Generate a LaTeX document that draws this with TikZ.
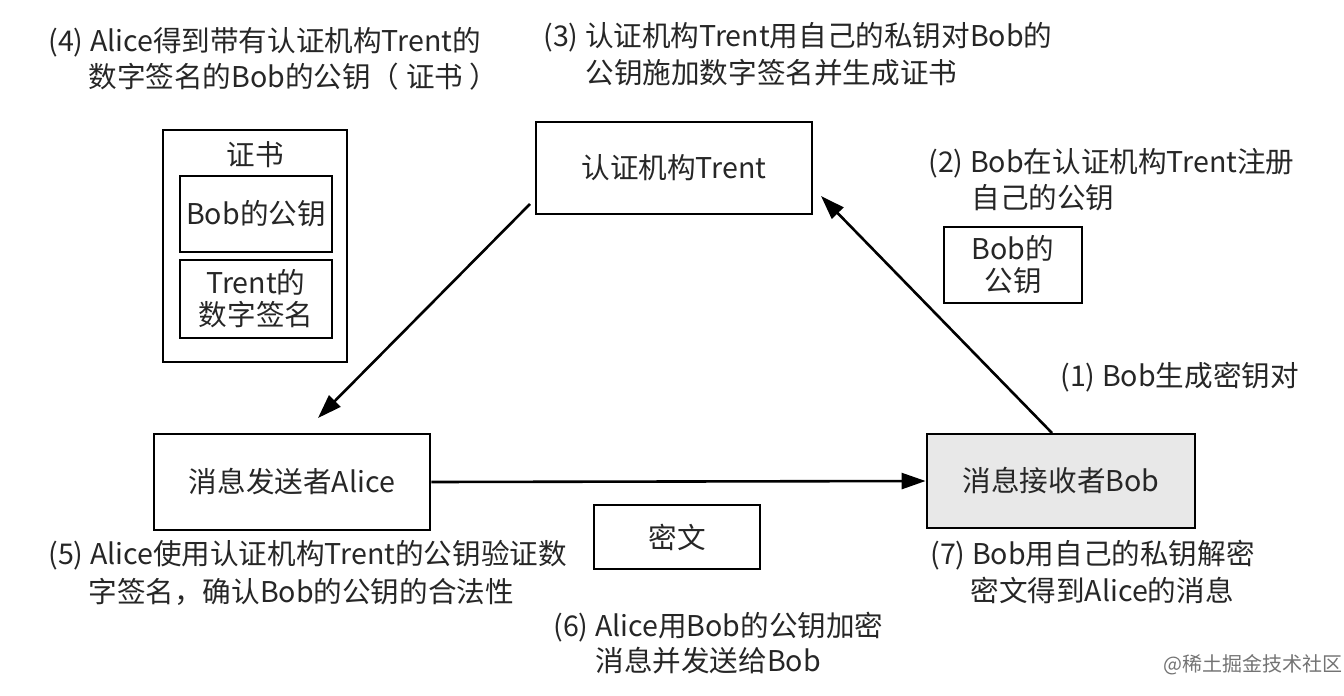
\documentclass[tikz,border=0pt]{standalone}
\usepackage{fontspec}
\setmainfont{Noto Sans CJK SC}
\usetikzlibrary{arrows.meta}
\begin{document}
\begin{tikzpicture}[x=0.5pt,y=-0.5pt,
  every node/.style={font=\fontsize{14.3}{17}\selectfont, text=black!85},
  box/.style={draw=black, line width=1.4pt, inner sep=0pt},
  lbl/.style={anchor=west, inner sep=0pt},
  conn/.style={draw=black, line width=1.3pt, -{Triangle[length=12pt,width=8pt]}}]
\useasboundingbox (0,0) rectangle (1344,696);
% main boxes
\node[box, minimum width=138pt, minimum height=46pt] (trent) at (674,168) {认证机构Trent};
\node[box, minimum width=138pt, minimum height=48pt] (alice) at (292,482) {消息发送者Alice};
\node[box, fill=black!9, minimum width=134pt, minimum height=47pt] (bob) at (1061,481) {消息接收者Bob};
\node[box, minimum width=83pt, minimum height=32pt] (cipher) at (677,537) {密文};
\node[box, minimum width=69pt, minimum height=38pt, align=center, font=\fontsize{14.3}{16}\selectfont] (bobkey) at (1013,265) {Bob的\\公钥};
% certificate
\node[box, minimum width=92pt, minimum height=116pt] (cert) at (255,246) {};
\node[inner sep=0pt] (certt) at (255,155) {证书};
\node[box, minimum width=76pt, minimum height=38pt] (certk) at (256,214) {Bob的公钥};
\node[box, minimum width=76pt, minimum height=39pt, align=center, font=\fontsize{14.3}{16}\selectfont] (certs) at (256,299) {Trent的\\数字签名};
% connectors
\coordinate (tA) at (530,204);
\coordinate (bT) at (1052,433);
\draw[conn] (tA) -- (318,418);
\draw[conn] (bT) -- (821,196);
\draw[conn] (alice.east) -- (bob.west);
% labels
\node[lbl] (l4a) at (48,42) {(4) Alice得到带有认证机构Trent的};
\node[lbl] (l4b) at (88,77) {数字签名的Bob的公钥（ 证书 ）};
\node[lbl] (l3a) at (543,37) {(3) 认证机构Trent用自己的私钥对Bob的};
\node[lbl] (l3b) at (585,73) {公钥施加数字签名并生成证书};
\node[lbl] (l2a) at (928,163) {(2) Bob在认证机构Trent注册};
\node[lbl] (l2b) at (971,198) {自己的公钥};
\node[lbl] (l1) at (1060,377) {(1) Bob生成密钥对};
\node[lbl] (l5a) at (48,555) {(5) Alice使用认证机构Trent的公钥验证数};
\node[lbl] (l5b) at (88,592) {字签名，确认Bob的公钥的合法性};
\node[lbl] (l6a) at (553,627) {(6) Alice用Bob的公钥加密};
\node[lbl] (l6b) at (595,661) {消息并发送给Bob};
\node[lbl] (l7a) at (930,555) {(7) Bob用自己的私钥解密};
\node[lbl] (l7b) at (970,590) {密文得到Alice的消息};
\node[lbl, text=black!55, font=\fontsize{10}{12}\selectfont] (wm) at (1163,665) {@稀土掘金技术社区};
\end{tikzpicture}
\end{document}
